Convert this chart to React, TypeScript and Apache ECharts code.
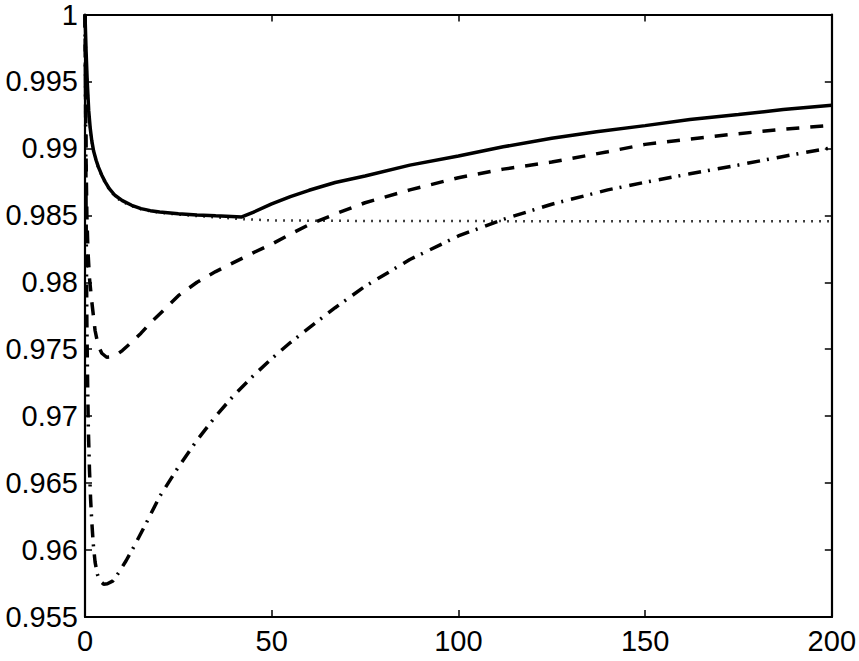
import React, { useEffect, useRef } from "react";
import * as echarts from "echarts";

// x ticks / y ticks
const xTicks = [0, 50, 100, 150, 200];
const yMin = 0.955;
const yMax = 1;
const yStep = 0.005;

// Solid curve
const solidX = [0, 0.3, 0.6, 1, 1.4, 1.8, 2.3, 3, 3.6, 4.5, 5.4, 6.5, 8, 10, 12.5, 15, 17.5, 20, 25, 30, 35, 42, 45, 50, 55, 60, 67, 75, 87, 100, 112, 125, 137, 150, 162, 175, 187, 200];
const solidY = [1.0, 0.9972, 0.995, 0.9928, 0.9915, 0.9906, 0.9898, 0.9891, 0.9886, 0.988, 0.9875, 0.987, 0.9865, 0.9861, 0.98575, 0.9855, 0.98535, 0.98525, 0.98512, 0.98503, 0.98496, 0.98488, 0.98522, 0.98585, 0.9864, 0.98687, 0.98745, 0.98794, 0.98875, 0.98943, 0.99012, 0.99075, 0.99125, 0.9917, 0.99215, 0.99253, 0.9929, 0.99323];

// Dotted curve
const dottedX = [0, 0.3, 0.6, 1, 1.4, 1.8, 2.3, 3, 3.6, 4.5, 5.4, 6.5, 8, 10, 12.5, 15, 17.5, 20, 25, 30, 35, 42, 50, 75, 100, 150, 200];
const dottedY = [1.0, 0.9971, 0.9949, 0.9927, 0.9914, 0.9905, 0.9897, 0.989, 0.9885, 0.9879, 0.9874, 0.9869, 0.9864, 0.986, 0.9857, 0.98545, 0.9853, 0.9852, 0.98505, 0.98495, 0.98485, 0.98472, 0.98462, 0.98458, 0.98457, 0.98456, 0.98456];

// Dashed curve
const dashedX = [0, 0.15, 0.3, 0.5, 0.8, 1.2, 1.8, 2.7, 3.5, 4.5, 5.8, 7, 8.5, 10, 12, 15, 18, 21, 25, 30, 35, 39, 45, 50, 55, 60, 67, 75, 87, 100, 112, 125, 140, 150, 162, 175, 187, 200];
const dashedY = [1.0, 0.994, 0.989, 0.985, 0.9823, 0.9803, 0.9786, 0.9764, 0.9753, 0.9747, 0.9744, 0.97443, 0.9746, 0.9749, 0.9754, 0.9762, 0.9771, 0.9779, 0.979, 0.98, 0.9808, 0.98136, 0.9822, 0.98285, 0.9836, 0.9843, 0.9851, 0.98594, 0.9869, 0.98781, 0.98845, 0.98898, 0.98975, 0.9903, 0.9907, 0.9911, 0.99143, 0.99173];

// Dash-dot curve
const dashDotX = [0, 0.15, 0.3, 0.5, 0.7, 0.9, 1.2, 1.5, 1.8, 2.2, 2.7, 3.3, 4, 5, 6, 7.5, 9, 11, 13, 16, 20, 25, 30, 35, 40, 45, 50, 55, 60, 67, 75, 87, 100, 112, 125, 140, 150, 162, 175, 187, 200];
const dashDotY = [1.0, 0.993, 0.985, 0.977, 0.9725, 0.969, 0.966, 0.9638, 0.9622, 0.9605, 0.9591, 0.9582, 0.9577, 0.95745, 0.95748, 0.9577, 0.9583, 0.9592, 0.9602, 0.9618, 0.964, 0.9662, 0.9682, 0.97, 0.9716, 0.973, 0.9743, 0.9755, 0.9766, 0.9781, 0.9797, 0.9817, 0.98346, 0.9847, 0.98583, 0.9869, 0.98747, 0.9881, 0.98876, 0.9894, 0.99005];

const pairs = (xs: number[], ys: number[]) => xs.map((x, i) => [x, ys[i]]);

const FONT = "'Liberation Sans', Arial, Helvetica, sans-serif";

export default function App() {
  const ref = useRef<HTMLDivElement>(null);
  useEffect(() => {
    if (!ref.current) return;
    const chart = echarts.init(ref.current, undefined, { renderer: "svg" });
    const axisLine = { show: true, onZero: false, lineStyle: { color: "#000", width: 2.2 } };
    const axisTick = { show: true, inside: true, length: 7, lineStyle: { color: "#000", width: 1.5 } };
    const labelStyle = { color: "#000", fontSize: 29, fontFamily: FONT };
    const xBase = {
      type: "value" as const,
      min: xTicks[0],
      max: xTicks[xTicks.length - 1],
      interval: xTicks[1] - xTicks[0],
      axisLine,
      axisTick,
      splitLine: { show: false },
    };
    const yBase = {
      type: "value" as const,
      min: yMin,
      max: yMax,
      interval: yStep,
      axisLine,
      axisTick,
      splitLine: { show: false },
    };
    chart.setOption({
      animation: false,
      backgroundColor: "#fff",
      grid: { left: 85, right: 27, top: 13, bottom: 44, containLabel: false },
      xAxis: [
        { ...xBase, position: "bottom", axisLabel: { ...labelStyle, margin: 9, formatter: (v: number) => String(v) } },
        { ...xBase, position: "top", axisLabel: { show: false } },
      ],
      yAxis: [
        { ...yBase, position: "left", axisLabel: { ...labelStyle, margin: 7, formatter: (v: number) => String(+v.toFixed(3)) } },
        { ...yBase, position: "right", axisLabel: { show: false } },
      ],
      series: [
        {
          type: "line",
          name: "dotted",
          data: pairs(dottedX, dottedY),
          showSymbol: false,
          symbol: "none",
          lineStyle: { color: "#000", width: 2.5, type: [1.5, 6.5] },
        },
        {
          type: "line",
          name: "dashdot",
          data: pairs(dashDotX, dashDotY),
          showSymbol: false,
          symbol: "none",
          lineStyle: { color: "#000", width: 3.5, type: [13, 7, 2, 8] },
        },
        {
          type: "line",
          name: "dashed",
          data: pairs(dashedX, dashedY),
          showSymbol: false,
          symbol: "none",
          lineStyle: { color: "#000", width: 3.5, type: [13, 11] },
        },
        {
          type: "line",
          name: "solid",
          data: pairs(solidX, solidY),
          showSymbol: false,
          symbol: "none",
          lineStyle: { color: "#000", width: 3.5, type: "solid" },
        },
      ],
    });
    return () => chart.dispose();
  }, []);
  return (
    <div
      ref={ref}
      style={{ position: "fixed", left: 0, top: 0, width: 859, height: 661, background: "#fff" }}
    />
  );
}
